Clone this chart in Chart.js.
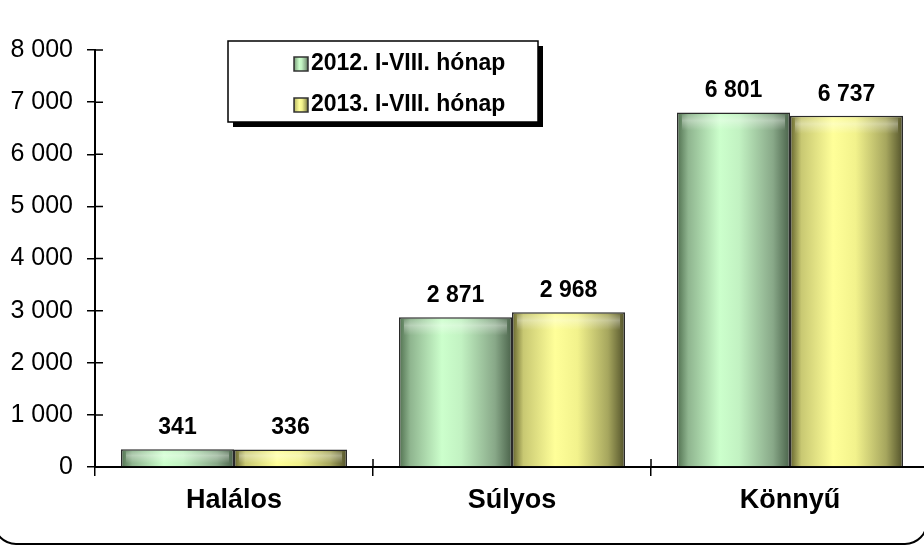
<!DOCTYPE html>
<html>
<head>
<meta charset="utf-8">
<script src="https://cdn.jsdelivr.net/npm/chart.js@4"></script>
<style>
  html, body { margin: 0; padding: 0; background: #fff; overflow: hidden; }
  #wrap { width: 932px; height: 546px; }
</style>
</head>
<body>
<div id="wrap"><canvas id="chart"></canvas></div>
<script>
// Data
const categories = ['Halálos', 'Súlyos', 'Könnyű'];
const seriesNames = ['2012. I-VIII. hónap', '2013. I-VIII. hónap'];
const values2012 = [341, 2871, 6801];
const values2013 = [336, 2968, 6737];
const yTicks = [0, 1000, 2000, 3000, 4000, 5000, 6000, 7000, 8000];

const CAT_PCT = 0.813;
const FONT = '"Liberation Sans", Arial, sans-serif';

// colour stops for the cylinder look
const greenStops = [[0, '#50704f'], [0.1, '#8fb58f'], [0.38, '#ccffcc'], [0.55, '#c2f2c2'], [0.85, '#88a888'], [1, '#4a624a']];
const yellowStops = [[0, '#62622c'], [0.1, '#c8c872'], [0.38, '#ffff99'], [0.58, '#f2f28c'], [0.85, '#a6a65e'], [1, '#52522a']];

function fmt(v) {
    return String(v).replace(/\B(?=(\d{3})+(?!\d))/g, ' ');
}

function makeGradient(ctx, x0, x1, stops) {
    const g = ctx.createLinearGradient(x0, 0, x1, 0);
    stops.forEach(s => g.addColorStop(s[0], s[1]));
    return g;
}

// gradient fill per bar, from the category scale
function barFill(stops) {
    return function (c) {
        const chart = c.chart;
        const xs = chart.scales.x;
        if (!xs || c.dataIndex === undefined || !isFinite(xs.width)) return stops[2][1];
        const n = chart.data.labels.length;
        const cw = xs.width / n;
        const bw = cw * CAT_PCT / chart.data.datasets.length;
        const center = xs.getPixelForValue(c.dataIndex);
        const left = center - cw * CAT_PCT / 2 + c.datasetIndex * bw;
        return makeGradient(chart.ctx, left, left + bw, stops);
    };
}

// rounded frame around the chart (mostly outside the window)
const framePlugin = {
    id: 'frame',
    beforeDraw(chart) {
        const ctx = chart.ctx;
        ctx.save();
        ctx.fillStyle = '#fff';
        ctx.fillRect(0, 0, chart.width, chart.height);
        ctx.beginPath();
        ctx.roundRect(-6, -60, 933, 604, 22);
        ctx.lineWidth = 2;
        ctx.strokeStyle = '#000';
        ctx.stroke();
        ctx.restore();
    }
};

// short tick marks inside the plot area
const innerTicks = {
    id: 'innerTicks',
    afterDraw(chart) {
        const ctx = chart.ctx;
        const ys = chart.scales.y;
        const xs = chart.scales.x;
        ctx.save();
        ctx.strokeStyle = '#000';
        ctx.lineWidth = 1.5;
        ctx.beginPath();
        ys.ticks.forEach((t, i) => {
            const y = ys.getPixelForTick(i);
            ctx.moveTo(xs.left, y);
            ctx.lineTo(xs.left + 8, y);
        });
        const cw = xs.width / chart.data.labels.length;
        for (let i = 1; i < chart.data.labels.length; i++) {
            const x = xs.left + i * cw;
            ctx.moveTo(x, ys.bottom);
            ctx.lineTo(x, ys.bottom - 8);
        }
        ctx.stroke();
        ctx.restore();
    }
};

// soft highlight on the bar tops + value labels
const barLabels = {
    id: 'barLabels',
    afterDatasetsDraw(chart) {
        const ctx = chart.ctx;
        ctx.save();
        chart.data.datasets.forEach((ds, di) => {
            chart.getDatasetMeta(di).data.forEach((bar, i) => {
                const left = bar.x - bar.width / 2;
                const h = Math.min(18, bar.height - 3);
                const g = ctx.createLinearGradient(0, bar.y, 0, bar.y + h);
                g.addColorStop(0, 'rgba(255,255,255,0)');
                g.addColorStop(0.45, 'rgba(255,255,255,0.35)');
                g.addColorStop(1, 'rgba(255,255,255,0)');
                ctx.fillStyle = g;
                ctx.fillRect(left + 5, bar.y + 2, bar.width - 10, h);

                ctx.fillStyle = '#000';
                ctx.font = 'bold 23px ' + FONT;
                ctx.textAlign = 'center';
                ctx.textBaseline = 'bottom';
                ctx.fillText(fmt(ds.data[i]), bar.x, bar.y - 10);
            });
        });
        ctx.restore();
    }
};

// boxed legend with drop shadow
const boxLegend = {
    id: 'boxLegend',
    afterDraw(chart) {
        const ctx = chart.ctx;
        const bx = 228, by = 41, bw = 310, bh = 81;
        ctx.save();
        ctx.fillStyle = '#000';
        ctx.fillRect(bx + 5, by + 5, bw, bh);
        ctx.fillStyle = '#fff';
        ctx.fillRect(bx, by, bw, bh);
        ctx.strokeStyle = '#000';
        ctx.lineWidth = 1.5;
        ctx.strokeRect(bx, by, bw, bh);
        const rows = [63, 104];
        chart.data.datasets.forEach((ds, i) => {
            const y = rows[i];
            const stops = i === 0 ? greenStops : yellowStops;
            ctx.fillStyle = makeGradient(ctx, 294, 308, stops);
            ctx.fillRect(294, y - 6, 14, 14);
            ctx.strokeStyle = '#333';
            ctx.lineWidth = 1.5;
            ctx.strokeRect(294, y - 6, 14, 14);
            ctx.fillStyle = '#000';
            ctx.font = 'bold 23px ' + FONT;
            ctx.textAlign = 'left';
            ctx.textBaseline = 'middle';
            ctx.fillText(ds.label, 311, y + 1);
        });
        ctx.restore();
    }
};

const ctx = document.getElementById('chart').getContext('2d');
const chart = new Chart(ctx, {
    type: 'bar',
    data: {
        labels: categories,
        datasets: [
            {
                label: seriesNames[0],
                data: values2012,
                backgroundColor: barFill(greenStops),
                borderColor: '#2a2a2a',
                borderWidth: 1.5,
                categoryPercentage: CAT_PCT,
                barPercentage: 1.0
            },
            {
                label: seriesNames[1],
                data: values2013,
                backgroundColor: barFill(yellowStops),
                borderColor: '#2a2a2a',
                borderWidth: 1.5,
                categoryPercentage: CAT_PCT,
                barPercentage: 1.0
            }
        ]
    },
    options: {
        responsive: true,
        maintainAspectRatio: false,
        animation: false,
        layout: {
            padding: { top: 50, right: 3, left: 0, bottom: 0 }
        },
        scales: {
            x: {
                grid: {
                    offset: true,
                    drawOnChartArea: false,
                    drawTicks: true,
                    tickLength: 9,
                    color: '#000',
                    lineWidth: 1.5
                },
                border: { color: '#000', width: 2 },
                ticks: {
                    color: '#000',
                    padding: 8,
                    font: { family: FONT, size: 27, weight: 'bold' }
                },
                afterFit(scale) {
                    scale.height = 79;
                }
            },
            y: {
                min: 0,
                max: 8000,
                afterBuildTicks(scale) {
                    scale.ticks = yTicks.map(v => ({ value: v }));
                },
                grid: {
                    drawOnChartArea: false,
                    drawTicks: true,
                    tickLength: 8,
                    color: '#000',
                    lineWidth: 1.5
                },
                border: { color: '#000', width: 2 },
                ticks: {
                    color: '#000',
                    padding: 14,
                    font: { family: FONT, size: 25 },
                    callback: v => fmt(v)
                },
                afterFit(scale) {
                    scale.width = 95;
                }
            }
        },
        plugins: {
            legend: { display: false },
            tooltip: { enabled: false }
        }
    },
    plugins: [framePlugin, barLabels, innerTicks, boxLegend]
});
</script>
</body>
</html>
